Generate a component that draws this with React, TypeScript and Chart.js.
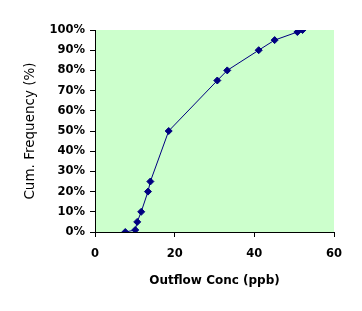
import React, { useEffect, useRef } from "react";
import { Chart, registerables } from "chart.js";

Chart.register(...registerables);

// Data
const outflowConc: number[] = [7.6, 10.1, 10.6, 11.6, 13.3, 13.9, 18.5, 30.7, 33.2, 41.1, 45.1, 50.8, 52.1];
const cumFrequency: number[] = [0, 1, 5, 10, 20, 25, 50, 75, 80, 90, 95, 99, 100];
const xTickValues: number[] = [0, 20, 40, 60];
const yTickStep = 10;
const xTitle = "Outflow Conc (ppb)";
const yTitle = "Cum. Frequency (%)";

const W = 362;
const H = 311;

const plotBg = {
  id: "plotBg",
  beforeDraw(chart: any) {
    const { ctx, chartArea } = chart;
    if (!chartArea) return;
    ctx.save();
    ctx.fillStyle = "#CCFFCC";
    ctx.fillRect(chartArea.left, chartArea.top, chartArea.right - chartArea.left, chartArea.bottom - chartArea.top);
    ctx.restore();
  },
};

export default function App() {
  const ref = useRef<HTMLCanvasElement | null>(null);

  useEffect(() => {
    if (!ref.current) return;
    const chart = new Chart(ref.current, {
      type: "scatter",
      data: {
        datasets: [
          {
            data: outflowConc.map((x, i) => ({ x, y: cumFrequency[i] })),
            showLine: true,
            borderColor: "#000080",
            backgroundColor: "#000080",
            borderWidth: 1,
            pointStyle: "rectRot",
            pointRadius: 3.5,
            pointBorderWidth: 1,
            pointBorderColor: "#000080",
            pointBackgroundColor: "#000080",
            tension: 0,
          },
        ],
      },
      plugins: [plotBg],
      options: {
        responsive: false,
        animation: false,
        devicePixelRatio: 1,
        layout: { padding: { left: 0, top: 30, right: 28, bottom: 0 } },
        plugins: {
          legend: { display: false },
          tooltip: { enabled: false },
        },
        scales: {
          x: {
            type: "linear",
            min: 0,
            max: 60,
            afterFit: (scale: any) => {
              scale.height = 79;
            },
            afterBuildTicks: (scale: any) => {
              scale.ticks = xTickValues.map((v) => ({ value: v }));
            },
            grid: {
              drawOnChartArea: false,
              drawTicks: true,
              tickLength: 5,
              color: "#000000",
            },
            border: { display: true, color: "#000000", width: 1 },
            ticks: {
              padding: 10,
              color: "#000000",
              font: { family: "DejaVu Sans", size: 11.5, weight: "bold" },
              maxRotation: 0,
            },
            title: {
              display: true,
              text: xTitle,
              color: "#000000",
              font: { family: "DejaVu Sans", size: 12, weight: "bold", lineHeight: 1.2 },
              padding: { top: 0, bottom: 23 },
            },
          },
          y: {
            type: "linear",
            min: 0,
            max: 100,
            afterFit: (scale: any) => {
              scale.width = 95;
            },
            grid: {
              drawOnChartArea: false,
              drawTicks: true,
              tickLength: 5,
              color: "#000000",
            },
            border: { display: true, color: "#000000", width: 1 },
            ticks: {
              stepSize: yTickStep,
              padding: 5,
              color: "#000000",
              font: { family: "DejaVu Sans", size: 11.5, weight: "bold" },
              callback: (v: any) => `${v}%`,
            },
            title: {
              display: true,
              text: yTitle,
              color: "#000000",
              font: { family: "DejaVu Sans", size: 13.5, weight: "normal", lineHeight: 1.2 },
              padding: { top: 22, bottom: 0 },
            },
          },
        },
      },
    });
    return () => chart.destroy();
  }, []);

  return (
    <div style={{ position: "absolute", left: 0, top: 0, width: W, height: H, background: "#ffffff" }}>
      <canvas ref={ref} width={W} height={H} style={{ display: "block", width: W, height: H }} />
    </div>
  );
}
